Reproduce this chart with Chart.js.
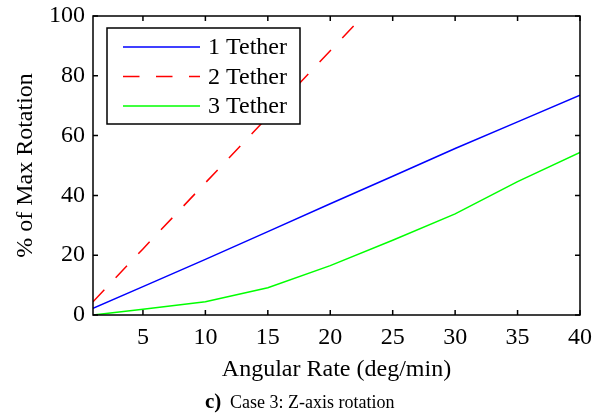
<!DOCTYPE html>
<html>
<head>
<meta charset="utf-8">
<script src="https://cdn.jsdelivr.net/npm/chart.js@4.4.0/dist/chart.umd.min.js"></script>
<style>
  body { margin: 0; background: #fff; }
  #wrap { width: 607px; height: 418px; position: relative; }
</style>
</head>
<body>
<div id="wrap"><canvas id="chart1" width="607" height="418"></canvas></div>
<script>
var rates = [1, 5, 10, 15, 20, 25, 30, 35, 40];
var tether1 = [2.2, 9.5, 18.6, 27.9, 37.2, 46.4, 55.7, 64.6, 73.5];
var tether2 = [4.4, 22.1, 44.2, 66.3, 88.4, 110.5, 132.6, 154.7, 176.8];
var tether3 = [0, 1.9, 4.4, 9.1, 16.5, 25, 33.8, 44.6, 54.4];
var xTicks = [5, 10, 15, 20, 25, 30, 35, 40];
var yTicks = [0, 20, 40, 60, 80, 100];
var labels = ['1 Tether', '2 Tether', '3 Tether'];

var serif = "'Liberation Serif', 'Times New Roman', serif";

function pts(ys) {
    return rates.map(function (x, i) { return { x: x, y: ys[i] }; });
}

// box, inward ticks on all four sides, legend and caption
var matlabStyle = {
    id: 'matlabStyle',
    afterDraw: function (chart) {
        var ctx = chart.ctx;
        var a = chart.chartArea;
        var xs = chart.scales.x, ys = chart.scales.y;
        ctx.save();
        ctx.strokeStyle = '#000';
        ctx.lineWidth = 1.5;
        ctx.strokeRect(a.left, a.top, a.right - a.left, a.bottom - a.top);
        ctx.beginPath();
        xTicks.forEach(function (v) {
            var px = xs.getPixelForValue(v);
            ctx.moveTo(px, a.bottom); ctx.lineTo(px, a.bottom - 5);
            ctx.moveTo(px, a.top); ctx.lineTo(px, a.top + 5);
        });
        yTicks.forEach(function (v) {
            var py = ys.getPixelForValue(v);
            ctx.moveTo(a.left, py); ctx.lineTo(a.left + 5, py);
            ctx.moveTo(a.right, py); ctx.lineTo(a.right - 5, py);
        });
        ctx.stroke();

        // legend
        var lx = 107, ly = 28, lw = 193, lh = 96;
        ctx.fillStyle = '#fff';
        ctx.fillRect(lx, ly, lw, lh);
        ctx.strokeRect(lx, ly, lw, lh);
        ctx.font = '24px ' + serif;
        ctx.textBaseline = 'middle';
        chart.data.datasets.forEach(function (ds, i) {
            var ry = ly + 19 + i * 29.5;
            ctx.strokeStyle = ds.borderColor;
            ctx.lineWidth = 1.3;
            ctx.setLineDash(ds.borderDash || []);
            ctx.beginPath();
            ctx.moveTo(lx + 16, ry); ctx.lineTo(lx + 93, ry);
            ctx.stroke();
            ctx.setLineDash([]);
            ctx.fillStyle = '#000';
            ctx.fillText(ds.label, lx + 101, ry + 1);
        });

        // caption
        ctx.textBaseline = 'alphabetic';
        ctx.fillStyle = '#000';
        ctx.font = 'bold 21px ' + serif;
        ctx.fillText('c)', 205, 408);
        ctx.font = '18px ' + serif;
        ctx.fillText('Case 3: Z-axis rotation', 230, 408);
        ctx.restore();
    }
};

var ctx = document.getElementById('chart1');
var chart = new Chart(ctx, {
    type: 'line',
    data: {
        datasets: [{
            label: labels[0],
            data: pts(tether1),
            borderColor: '#0000ff',
            borderWidth: 1.5
        }, {
            label: labels[1],
            data: pts(tether2),
            borderColor: '#ff0000',
            borderWidth: 1.5,
            borderDash: [16.5, 16.5]
        }, {
            label: labels[2],
            data: pts(tether3),
            borderColor: '#00ff00',
            borderWidth: 1.5
        }]
    },
    options: {
        responsive: false,
        animation: false,
        events: [],
        elements: { point: { radius: 0 }, line: { tension: 0 } },
        layout: { padding: { top: 0, right: 27, left: 0, bottom: 0 } },
        plugins: { legend: { display: false }, tooltip: { enabled: false } },
        scales: {
            x: {
                type: 'linear',
                min: 1,
                max: 40,
                afterBuildTicks: function (s) { s.ticks = xTicks.map(function (v) { return { value: v }; }); },
                afterFit: function (s) { s.height = 103; },
                grid: { display: false, drawTicks: false },
                border: { display: false },
                ticks: { color: '#000', padding: 8, maxRotation: 0, font: { family: serif, size: 24 } },
                title: { display: true, text: 'Angular Rate (deg/min)', color: '#000', padding: { top: 0, bottom: 34 }, font: { family: serif, size: 24 } }
            },
            y: {
                min: 0,
                max: 100,
                afterBuildTicks: function (s) { s.ticks = yTicks.map(function (v) { return { value: v }; }); },
                afterFit: function (s) { s.width = 93; s.paddingTop = 16; s.paddingBottom = 0; },
                grid: { display: false, drawTicks: false },
                border: { display: false },
                ticks: { color: '#000', padding: 8, font: { family: serif, size: 24 } },
                title: { display: true, text: '% of Max Rotation', color: '#000', padding: { top: 11, bottom: 0 }, font: { family: serif, size: 24 } }
            }
        }
    },
    plugins: [matlabStyle]
});
</script>
</body>
</html>
